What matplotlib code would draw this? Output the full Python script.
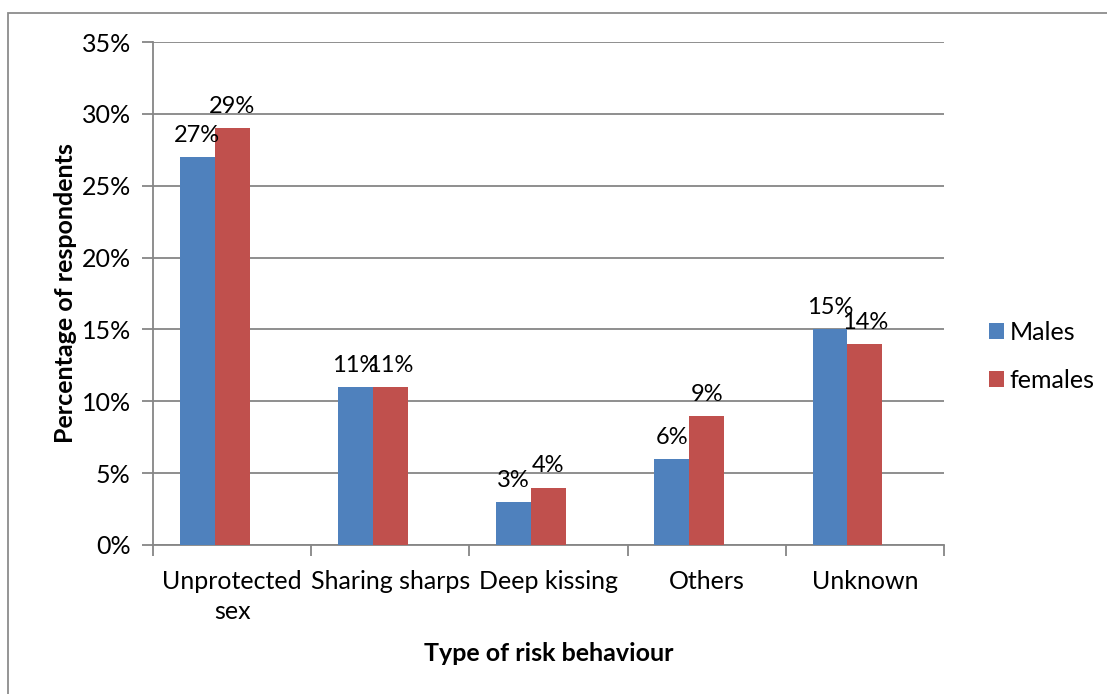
import matplotlib
matplotlib.use("Agg")
import matplotlib.pyplot as plt
from matplotlib.patches import Rectangle
import numpy as np

plt.rcParams['font.family'] = ['Lato', 'DejaVu Sans']

categories = ["Unprotected\nsex", "Sharing sharps", "Deep kissing", "Others", "Unknown"]
males = [27, 11, 3, 6, 15]
females = [29, 11, 4, 9, 14]
yticks = [0, 5, 10, 15, 20, 25, 30, 35]

blue = "#4F81BD"
red = "#C0504D"
grid_col = "#868686"
fs = 18

fig = plt.figure(figsize=(11.07, 6.94), dpi=100)
# outer chart border (cut off right and bottom in the original)
fig.patches.append(Rectangle((8 / 1107, -0.1), 1.2, 1 - 13 / 694 + 0.1,
                             transform=fig.transFigure, fill=False,
                             edgecolor="#8c8c8c", lw=1.3))

ax = fig.add_axes([153 / 1107, 1 - 545 / 694, (944 - 153) / 1107, (545 - 42) / 694])

x = np.arange(len(categories))
w = 0.22
b1 = ax.bar(x - 0.33, males, w, align='edge', color=blue, label="Males", zorder=3)
b2 = ax.bar(x - 0.11, females, w, align='edge', color=red, label="females", zorder=3)

for bars, vals in ((b1, males), (b2, females)):
    for r, v in zip(bars, vals):
        ax.annotate(f"{v}%", (r.get_x() + r.get_width() / 2, v),
                    xytext=(0, 8), textcoords="offset points",
                    ha="center", va="bottom", fontsize=17)

ax.set_xlim(-0.5, len(categories) - 0.5)
ax.set_ylim(0, 35)
ax.set_yticks(yticks)
ax.set_yticklabels([f"{t}%" for t in yticks], fontsize=fs)
ax.yaxis.grid(True, color=grid_col, lw=1.3, zorder=0)
ax.set_axisbelow(True)

ax.set_xticks(x)
ax.set_xticklabels(categories, fontsize=fs, linespacing=1.35)
ax.set_xticks(np.arange(len(categories) + 1) - 0.5, minor=True)
ax.tick_params(axis='x', which='major', length=0, pad=18)
ax.tick_params(axis='x', which='minor', length=8, width=1.3, color=grid_col, direction='out')
ax.tick_params(axis='y', length=8, width=1.3, color=grid_col, pad=8)

for s in ("top", "right"):
    ax.spines[s].set_visible(False)
for s in ("left", "bottom"):
    ax.spines[s].set_color(grid_col)
    ax.spines[s].set_linewidth(1.3)

ax.set_ylabel("Percentage of respondents", fontsize=fs, fontweight="bold", labelpad=3)
ax.set_xlabel("Type of risk behaviour", fontsize=fs, fontweight="bold", labelpad=14)

leg = ax.legend(handles=[b1, b2], labels=["Males", "females"],
                loc="center left", bbox_to_anchor=(966 / 1107, 1 - 356 / 694),
                bbox_transform=fig.transFigure, frameon=False, fontsize=fs,
                handlelength=0.6, handleheight=0.6, handletextpad=0.25,
                labelspacing=1.0)

fig.savefig("out.png", dpi=100)
